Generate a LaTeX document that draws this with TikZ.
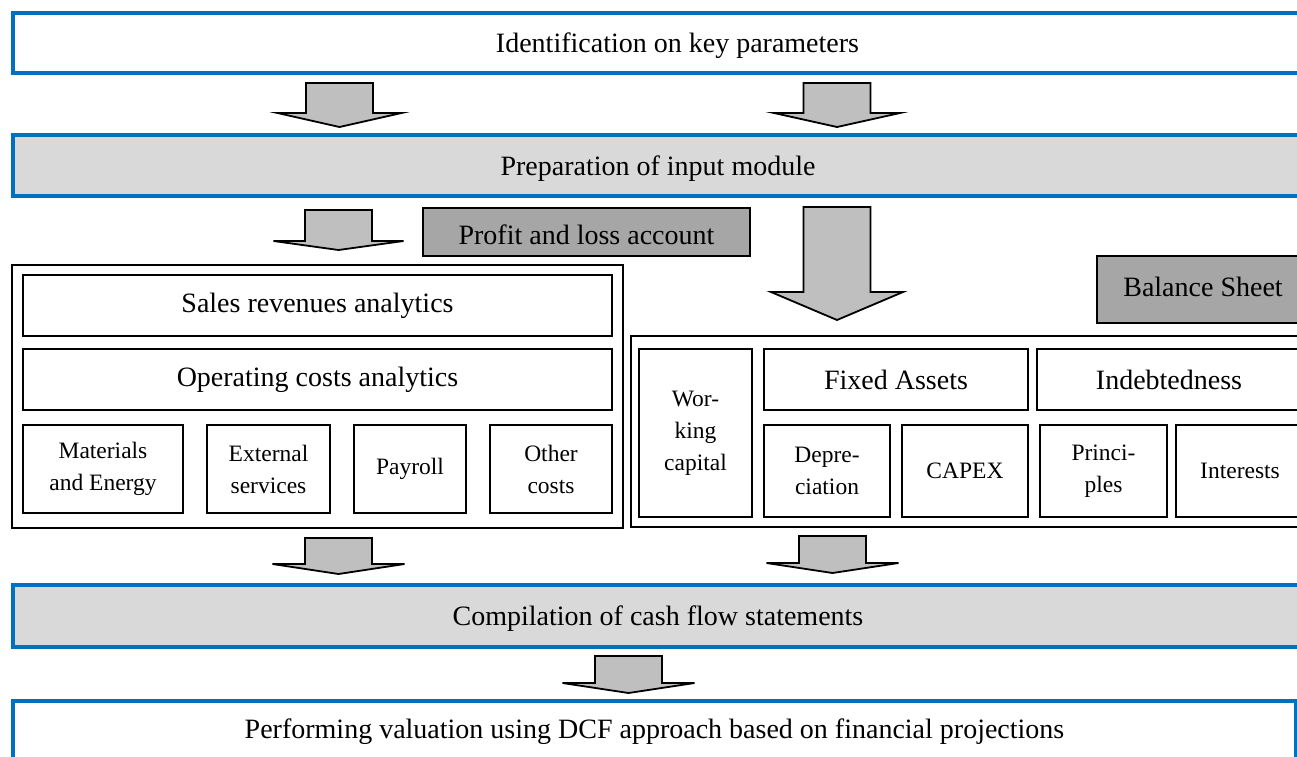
\documentclass[tikz,border=0pt]{standalone}
\usepackage{fontspec}
\setmainfont{Liberation Serif}

\definecolor{frameblue}{HTML}{0070C0}
\definecolor{bandgrey}{HTML}{D9D9D9}
\definecolor{tabgrey}{HTML}{A6A6A6}
\definecolor{arrowgrey}{HTML}{BFBFBF}

% box with a centred, named label
\newcommand{\panel}[7]{%
  \draw[#1] (#3,#4) rectangle (#5,#6);
  \node[label text] (#2) at ({(#3+#5)/2},{(#4+#6)/2}) {#7};}

% block arrow: centre x, top, head base, tip, head half-width
\newcommand{\blockarrow}[5]{%
  \draw[block arrow] (#1-33.5,#2) -- (#1+33.5,#2) -- (#1+33.5,#3) -- (#1+#5,#3)
    -- (#1,#4) -- (#1-#5,#3) -- (#1-33.5,#3) -- cycle;}

\begin{document}
\begin{tikzpicture}[x=1pt,y=-1pt,
  stage/.style={draw=frameblue,line width=3.5pt},
  stagegrey/.style={stage,fill=bandgrey},
  cell/.style={draw=black,line width=1.8pt},
  tab/.style={cell,fill=tabgrey},
  block arrow/.style={draw=black,line width=1.8pt,fill=arrowgrey,line join=miter},
  main text/.style={align=center,inner sep=0pt,font=\fontsize{28}{33}\selectfont},
  stage text/.style={main text,text depth=0pt},
  small text/.style={align=center,inner sep=0pt,font=\fontsize{23.5}{32}\selectfont},
  label text/.style={stage text}]
\useasboundingbox (0,0) rectangle (1297,756);
\clip (0,0) rectangle (1297,756);

% main stages
\panel{stage}{identify}{13}{13}{1342}{73}{Identification on key parameters}
\panel{stagegrey}{prepare}{13}{135}{1303}{196}{Preparation of input module}
\panel{stagegrey}{compile}{13}{585}{1303}{647}{Compilation of cash flow statements}
\draw[stage] (13,701) rectangle (1296,775);
\node[stage text] (valuate) at (654.5,729) {Performing valuation using DCF approach based on financial projections};

% flow arrows
\blockarrow{339.5}{83}{113}{127}{62}
\blockarrow{837}{83}{113}{127}{63}
\blockarrow{338.5}{210}{241}{250}{65}
\blockarrow{837}{207}{292}{320}{66}
\blockarrow{338.5}{538}{564}{574}{66}
\blockarrow{832.5}{536}{563}{573}{66}
\blockarrow{628.5}{656}{683}{693}{66}

% section tabs
\draw[tab] (423,208) rectangle (750,256);
\node[stage text] (pnl) at (586.5,235) {Profit and loss account};
\draw[tab] (1097,256) rectangle (1311,323);
\node[main text] (bs) at (1203,287) {Balance Sheet};

% profit and loss block
\tikzset{label text/.style={main text}}
\draw[cell] (12,265) rectangle (623,528);
\panel{cell}{sales}{23}{275}{612}{336}{Sales revenues analytics}
\panel{cell}{opcost}{23}{349}{612}{410}{Operating costs analytics}
\tikzset{label text/.style={small text}}
\panel{cell}{materials}{23}{425}{183}{513}{Materials\\and Energy}
\panel{cell}{external}{207}{425}{330}{513}{External\\services}
\panel{cell}{payroll}{354}{425}{466}{513}{Payroll}
\panel{cell}{other}{490}{425}{612}{513}{Other\\costs}

% balance sheet block
\draw[cell] (631,336) rectangle (1315,527);
\panel{cell}{working}{639}{349}{752}{517}{Wor-\\king\\capital}
\panel{cell}{deprec}{764}{425}{890}{517}{Depre-\\ciation}
\panel{cell}{capex}{902}{425}{1028}{517}{CAPEX}
\panel{cell}{principles}{1040}{425}{1167}{517}{Princi-\\ples}
\panel{cell}{interests}{1176}{425}{1304}{517}{Interests}
\tikzset{label text/.style={main text}}
\panel{cell}{fixed}{764}{349}{1028}{410}{Fixed Assets}
\panel{cell}{debt}{1037}{349}{1301}{410}{Indebtedness}
\end{tikzpicture}
\end{document}
